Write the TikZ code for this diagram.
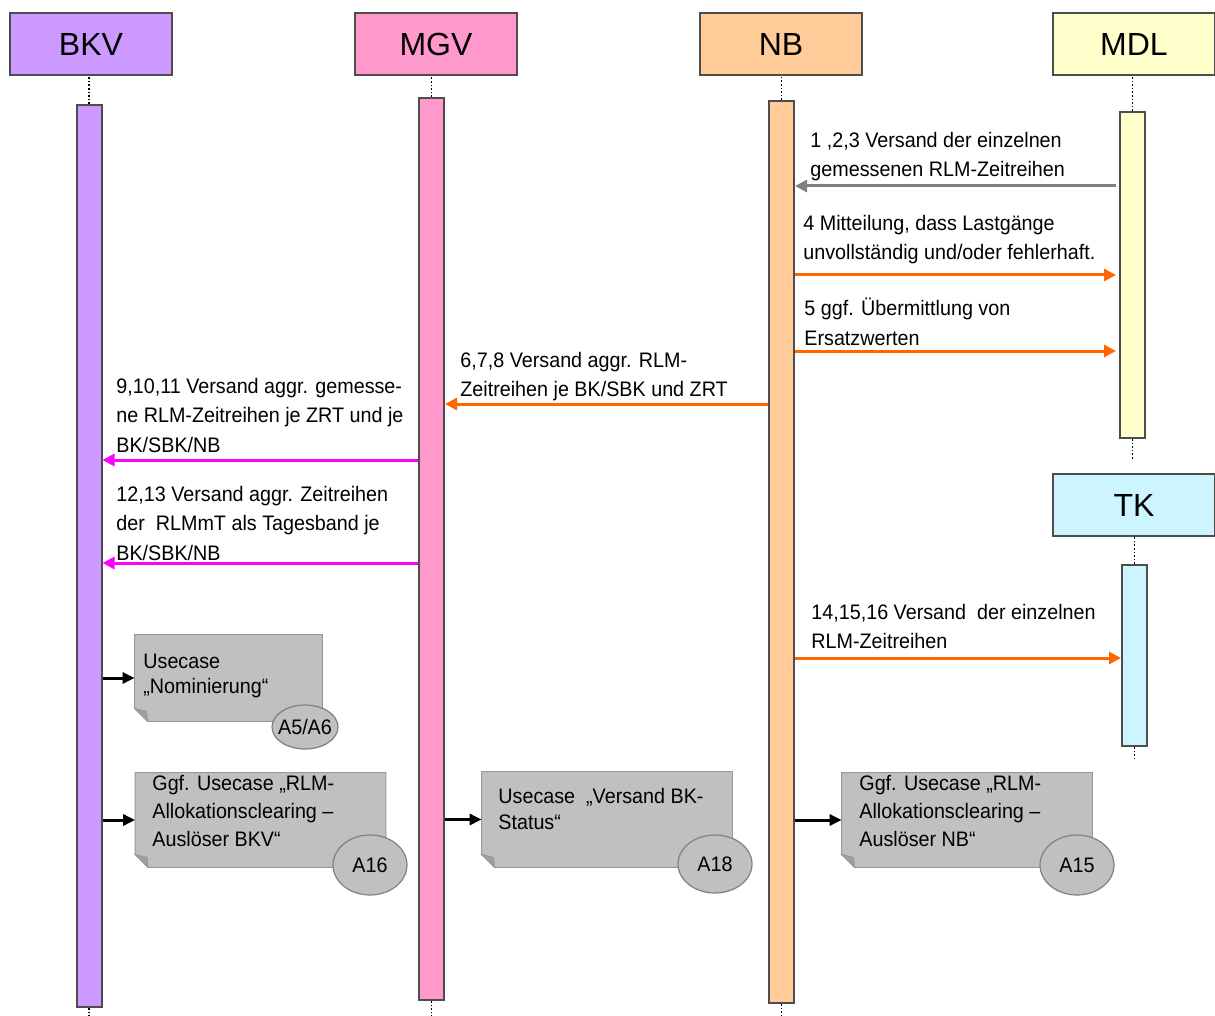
\documentclass[tikz,border=0pt]{standalone}
\usepackage{fontspec}
\setmainfont{Liberation Sans}
\newfontfamily\lblfont{Liberation Sans}[FakeStretch=0.94]
\usepackage{xcolor}
\usetikzlibrary{arrows.meta, positioning, shapes.geometric}

\definecolor{bkvcol}{HTML}{CC99FF}
\definecolor{mgvcol}{HTML}{FF99CC}
\definecolor{nbcol}{HTML}{FFCC99}
\definecolor{mdlcol}{HTML}{FFFFCC}
\definecolor{tkcol}{HTML}{CCF5FF}
\definecolor{edgecol}{HTML}{4D4D4D}
\definecolor{orangecol}{HTML}{FF6600}
\definecolor{pinkcol}{HTML}{FF00FF}
\definecolor{notecol}{HTML}{C0C0C0}

\begin{document}
\begin{tikzpicture}[x=0.5pt, y=-0.5pt,
    head/.style={draw=edgecol, line width=1pt, minimum width=81pt, minimum height=31pt,
      font=\fontsize{16}{18}\selectfont},
    bar/.style={draw=edgecol, line width=1pt, minimum width=12.5pt, inner sep=0},
    life/.style={densely dotted, line width=0.8pt},
    lbl/.style={font=\lblfont\fontsize{10.5}{14.6}\selectfont, align=left, inner sep=0, anchor=north west},
    msg/.style={line width=1.5pt, -{Triangle[length=6pt, width=6pt]}},
    notebox/.style={inner sep=0},
    tag/.style={ellipse, fill=notecol, draw=gray, line width=0.6pt, inner sep=0,
      font=\lblfont\fontsize{10.5}{12}\selectfont}]

  \useasboundingbox (0,0) rectangle (1215,1016);
  \coordinate (bottom) at (0,1016);

  % heads of the lifelines
  \foreach \name/\x/\y/\col/\label in {
      bkv/91/44/bkvcol/BKV,
      mgv/436/44/mgvcol/MGV,
      nb/781/44/nbcol/NB,
      mdl/1134/44/mdlcol/MDL,
      tk/1134/505/tkcol/TK
    }{
    \node[head, fill=\col] (\name) at (\x,\y) {\label};
  }

  % activation bars
  \node[bar, fill=bkvcol, minimum height=451pt] (bkvbar) at (89,556) {};
  \node[bar, fill=mgvcol, minimum height=451pt] (mgvbar) at (431.5,549) {};
  \node[bar, fill=nbcol, minimum height=451pt] (nbbar) at (781.5,552) {};
  \node[bar, fill=mdlcol, minimum height=163pt] (mdlbar) at (1132.5,275) {};
  \node[bar, fill=tkcol, minimum height=90.5pt] (tkbar) at (1134.5,655.5) {};
  \coordinate (mdlend) at (1132.5,460);
  \coordinate (tkend) at (1134.5,760);

  \foreach \name in {bkv, mgv, nb, mdl, tk}{
    \draw[life] (\name bar.north) -- (\name bar.north |- \name.south);
  }
  \foreach \name in {bkv, mgv, nb}{
    \draw[life] (\name bar.south) -- (\name bar.south |- bottom);
  }
  \draw[life] (mdlbar.south) -- (mdlend);
  \draw[life] (tkbar.south) -- (tkend);

  % messages
  \draw[msg, draw=gray, fill=gray] ([xshift=-1.5pt]mdlbar.west |- 0,186) -- (nbbar.east |- 0,186);
  \node[lbl] (m1) at (810,132) {1 ,2,3 Versand der einzelnen\\gemessenen RLM-Zeitreihen};

  \draw[msg, draw=orangecol, fill=orangecol] (nbbar.east |- 0,275) -- ([xshift=-1.5pt]mdlbar.west |- 0,275);
  \node[lbl] (m4) at (803,215) {4 Mitteilung, dass Lastgänge\\unvollständig und/oder fehlerhaft.};

  \draw[msg, draw=orangecol, fill=orangecol] (nbbar.east |- 0,351) -- ([xshift=-1.5pt]mdlbar.west |- 0,351);
  \node[lbl] (m5) at (804,298) {5 ggf. Übermittlung von\\Ersatzwerten};

  \draw[msg, draw=orangecol, fill=orangecol] (nbbar.west |- 0,404) -- (mgvbar.east |- 0,404);
  \node[lbl] (m6) at (460,352) {6,7,8 Versand aggr. RLM-\\Zeitreihen je BK/SBK und ZRT};

  \draw[msg, draw=pinkcol, fill=pinkcol] (mgvbar.west |- 0,460) -- (bkvbar.east |- 0,460);
  \node[lbl] (m9) at (116,378) {9,10,11 Versand aggr. gemesse-\\ne RLM-Zeitreihen je ZRT und je\\BK/SBK/NB};

  \draw[msg, draw=pinkcol, fill=pinkcol] (mgvbar.west |- 0,563) -- (bkvbar.east |- 0,563);
  \node[lbl] (m12) at (116,486) {12,13 Versand aggr. Zeitreihen\\der~ RLMmT als Tagesband je\\BK/SBK/NB};

  \draw[msg, draw=orangecol, fill=orangecol] (nbbar.east |- 0,658) -- (tkbar.west |- 0,658);
  \node[lbl] (m14) at (811,604) {14,15,16 Versand~ der einzelnen\\RLM-Zeitreihen};

  % usecase notes
  \node[notebox, minimum width=93.5pt, minimum height=43pt] (ucnom) at (228.5,678) {};
  \node[notebox, minimum width=125pt, minimum height=47pt] (ucbkv) at (260.5,820) {};
  \node[notebox, minimum width=125pt, minimum height=47.5pt] (ucmgv) at (607,819.5) {};
  \node[notebox, minimum width=125pt, minimum height=47pt] (ucnb) at (967,820) {};

  \foreach \n in {ucnom, ucbkv, ucmgv, ucnb}{
    \filldraw[fill=notecol, draw=gray!80, line width=0.5pt]
      (\n.north west) -- (\n.north east) -- (\n.south east)
      -- ([xshift=6.5pt]\n.south west) -- ([yshift=6.5pt]\n.south west) -- cycle;
    \filldraw[fill=gray!75, draw=gray!80, line width=0.4pt]
      ([yshift=6.5pt]\n.south west) -- ([xshift=6.5pt]\n.south west)
      -- ([xshift=6pt, yshift=5pt]\n.south west) -- cycle;
  }

  \node[lbl, font=\lblfont\fontsize{10.5}{12.3}\selectfont] (tnom) at (143,654) {Usecase\\„Nominierung“};
  \node[lbl, font=\lblfont\fontsize{10.5}{14}\selectfont] (tbkv) at (152,775) {Ggf. Usecase „RLM-\\Allokationsclearing –\\Auslöser BKV“};
  \node[lbl, font=\lblfont\fontsize{10.5}{13}\selectfont] (tmgv) at (498,788) {Usecase~ „Versand BK-\\Status“};
  \node[lbl, font=\lblfont\fontsize{10.5}{14}\selectfont] (tnb) at (859,775) {Ggf. Usecase „RLM-\\Allokationsclearing –\\Auslöser NB“};

  \node[tag, inner xsep=-2.5pt, minimum width=33pt, minimum height=22pt] (a56) at (305,727) {A5/A6};
  \node[tag, minimum width=37pt, minimum height=30pt] (a16) at (370,865) {A16};
  \node[tag, minimum width=37pt, minimum height=29pt] (a18) at (715,864) {A18};
  \node[tag, minimum width=37pt, minimum height=30pt] (a15) at (1077,865) {A15};

  \draw[msg, -{Triangle[length=6pt, width=5.5pt]}] (bkvbar.east |- ucnom.west) -- (ucnom.west);
  \draw[msg, -{Triangle[length=6pt, width=5.5pt]}] (bkvbar.east |- ucbkv.west) -- (ucbkv.west);
  \draw[msg, -{Triangle[length=6pt, width=5.5pt]}] (mgvbar.east |- ucmgv.west) -- (ucmgv.west);
  \draw[msg, -{Triangle[length=6pt, width=5.5pt]}] (nbbar.east |- ucnb.west) -- (ucnb.west);
\end{tikzpicture}
\end{document}
